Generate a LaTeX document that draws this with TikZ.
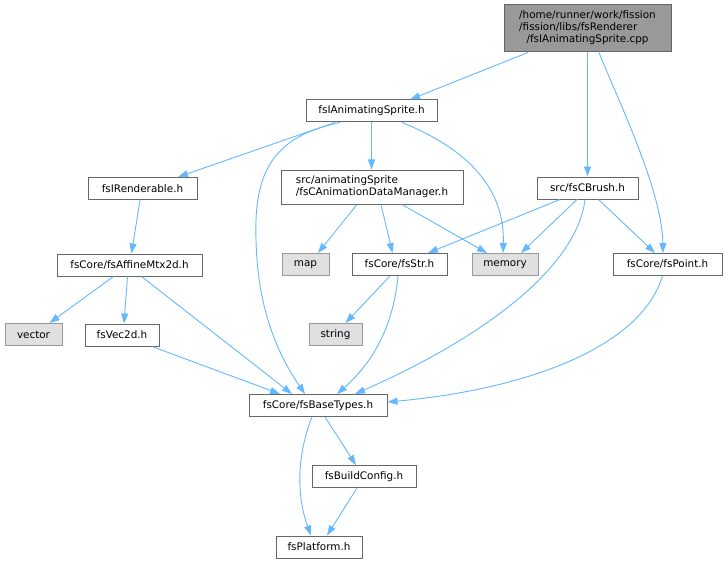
\documentclass[tikz,border=0pt]{standalone}
\usepackage{fontspec}
\setmainfont{DejaVu Sans}
\usetikzlibrary{arrows.meta}
\definecolor{edgec}{HTML}{63B8FF}
\definecolor{bordc}{HTML}{666666}
\definecolor{gbord}{HTML}{999999}
\definecolor{gfill}{HTML}{E0E0E0}
\definecolor{topfill}{HTML}{999999}
\begin{document}
\begin{tikzpicture}[x=1pt,y=-1pt,
  box/.style={draw=bordc, fill=white, line width=1pt, inner sep=0pt, minimum height=22pt, font=\fontsize{10.4}{12}\selectfont, text=black},
  sysbox/.style={box, draw=gbord, fill=gfill},
  topbox/.style={box, fill=topfill},
  dep/.style={draw=edgec, line width=0.9pt, -{Triangle[length=10pt,width=7pt]}}
]
\useasboundingbox (0,0) rectangle (727,564);

\node[topbox, minimum width=167pt, minimum height=47pt] (cpp) at (587.5,28.5)
  {\begin{tabular}{@{}l@{}}/home/runner/work/fission\\/fission/libs/fsRenderer\\\multicolumn{1}{@{}c@{}}{/fsIAnimatingSprite.cpp}\end{tabular}};
\node[box, minimum width=131pt] (anim) at (371.5,111) {fsIAnimatingSprite.h};
\node[box, minimum width=109pt] (rend) at (142.5,188.5) {fsIRenderable.h};
\node[box, minimum width=182pt, minimum height=34pt] (adm) at (372,187)
  {\begin{tabular}{@{}l@{}}src/animatingSprite\\\multicolumn{1}{@{}c@{}}{/fsCAnimationDataManager.h}\end{tabular}};
\node[box, minimum width=101pt] (brush) at (587.5,188) {src/fsCBrush.h};
\node[box, minimum width=145pt] (affine) at (129.5,265) {fsCore/fsAffineMtx2d.h};
\node[sysbox, minimum width=47pt] (map) at (305.5,264.5) {map};
\node[box, minimum width=95pt] (str) at (399.5,264.5) {fsCore/fsStr.h};
\node[sysbox, minimum width=66pt] (memory) at (505,264.5) {memory};
\node[box, minimum width=109pt] (point) at (667.5,264.5) {fsCore/fsPoint.h};
\node[sysbox, minimum width=57pt] (vector) at (33.5,334.5) {vector};
\node[box, minimum width=74pt] (vec2d) at (122,335) {fsVec2d.h};
\node[sysbox, minimum width=53pt] (string) at (335.5,334.5) {string};
\node[box, minimum width=138pt] (base) at (318,405.5) {fsCore/fsBaseTypes.h};
\node[box, minimum width=104pt] (build) at (364,476.5) {fsBuildConfig.h};
\node[box, minimum width=86pt] (plat) at (319,547) {fsPlatform.h};

\draw[dep] ([xshift=-59.5pt]cpp.south) -- ([xshift=38.5pt]anim.north);
\draw[dep] (cpp.south) -- (brush.north);
\draw[dep] ([xshift=11.5pt]cpp.south) .. controls (618,100) and (662,190) .. ([xshift=-4.5pt]point.north);
\draw[dep] ([xshift=-36.5pt]anim.south) -- ([xshift=35.5pt]rend.north);
\draw[dep] ([xshift=-31.5pt]anim.south) .. controls (280,135) and (258,165) .. (256,220) .. controls (254,300) and (275,350) .. ([xshift=-13pt]base.north);
\draw[dep] (anim.south) -- (anim.south |- adm.north);
\draw[dep] ([xshift=30.5pt]anim.south) .. controls (470,150) and (505,190) .. ([xshift=-2pt]memory.north);
\draw[dep] ([xshift=-2.5pt]rend.south) -- ([xshift=2pt]affine.north);
\draw[dep] ([xshift=-15pt]adm.south) -- ([xshift=12.5pt]map.north);
\draw[dep] ([xshift=9pt]adm.south) -- ([xshift=-7pt]str.north);
\draw[dep] ([xshift=30pt]adm.south) -- ([xshift=-18pt]memory.north);
\draw[dep] ([xshift=-27.5pt]brush.south) -- ([xshift=28.5pt]str.north);
\draw[dep] ([xshift=-10.5pt]brush.south) -- ([xshift=16pt]memory.north);
\draw[dep] ([xshift=-2.5pt]brush.south) .. controls (578,260) and (500,330) .. ([xshift=37pt]base.north);
\draw[dep] ([xshift=11pt]brush.south) -- ([xshift=-12.5pt]point.north);
\draw[dep] ([xshift=-16pt]affine.south) -- ([xshift=16pt]vector.north);
\draw[dep] ([xshift=-2pt]affine.south) -- ([xshift=2pt]vec2d.north);
\draw[dep] ([xshift=12pt]affine.south) -- ([xshift=-26pt]base.north);
\draw[dep] ([xshift=30pt]vec2d.south) -- ([xshift=-38pt]base.north);
\draw[dep] ([xshift=-9.5pt]str.south) -- ([xshift=10pt]string.north);
\draw[dep] ([xshift=-1.5pt]str.south) .. controls (393,330) and (370,365) .. ([xshift=19pt]base.north);
\draw[dep] ([xshift=-5pt]point.south) .. controls (640,350) and (520,390) .. ([yshift=3.5pt]base.east);
\draw[dep] ([xshift=7pt]base.south) -- ([xshift=-8pt]build.north);
\draw[dep] ([xshift=-6pt]base.south) .. controls (295,460) and (298,500) .. ([xshift=-8pt]plat.north);
\draw[dep] ([xshift=-7pt]build.south) -- ([xshift=8pt]plat.north);
\end{tikzpicture}
\end{document}
